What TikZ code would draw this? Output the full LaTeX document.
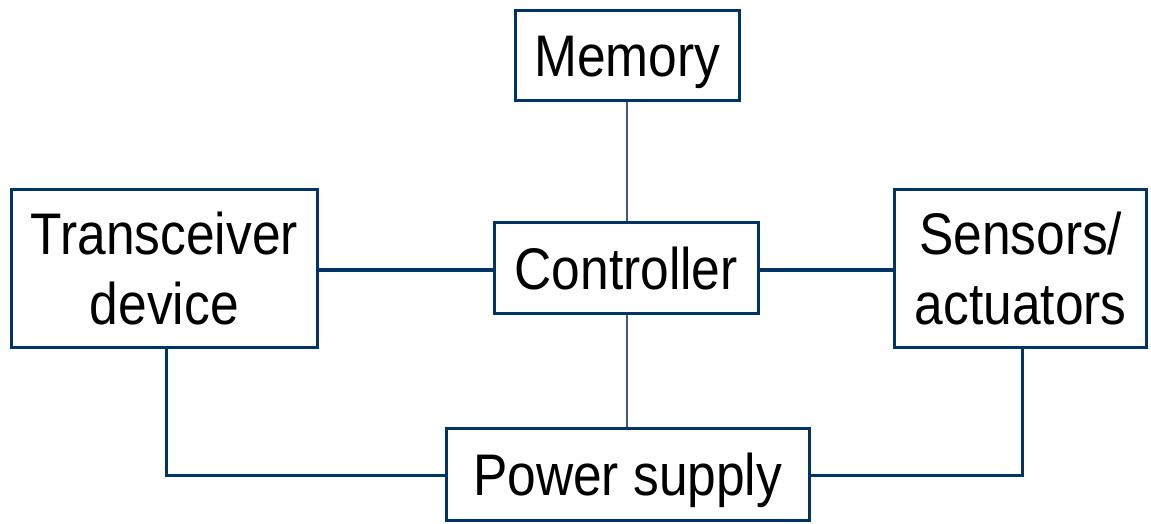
\documentclass[tikz,border=0pt]{standalone}
\usepackage{fontspec}
\newfontfamily\labfont[FakeStretch=0.877]{Liberation Sans}
\definecolor{navy}{RGB}{0,51,102}
\definecolor{midline}{RGB}{60,90,130}
\begin{document}
\begin{tikzpicture}[x=1pt,y=-1pt,
  blk/.style={draw=navy, line width=3.3pt, fill=white, inner sep=0pt, align=center,
    font=\labfont\fontsize{58.7}{70}\selectfont, text=black,
    text height=42pt, text depth=0pt},
  blk2/.style={blk, text height=112pt},
  conn/.style={draw=navy, line width=3.3pt},
  vconn/.style={draw=midline, line width=2.8pt}]
\useasboundingbox (0,0) rectangle (1151,523);
\node[blk, minimum width=224pt, minimum height=90pt] (mem) at (627.4,55.7) {Memory};
\node[blk, minimum width=264pt, minimum height=90.6pt] (ctrl) at (626.2,268) {Controller};
\node[blk2, minimum width=306pt, minimum height=158pt] (trans) at (164.3,268.6) {Transceiver\\device};
\node[blk2, minimum width=252pt, minimum height=158pt] (sens) at (1020.7,268.6) {Sensors/\\actuators};
\node[blk, minimum width=363pt, minimum height=92pt] (pow) at (627.7,474.7) {Power supply};
\coordinate (tb) at (166.3,347.5);
\coordinate (sb) at (1022.3,347.5);
\coordinate (vx) at (627,0);
\draw[vconn] (vx |- mem.south) -- (vx |- ctrl.north);
\draw[vconn] (vx |- ctrl.south) -- (vx |- pow.north);
\draw[conn] (trans.east |- 0,270) -- (ctrl.west |- 0,270);
\draw[conn] (ctrl.east |- 0,270) -- (sens.west |- 0,270);
\draw[conn] (tb) |- (pow.west |- 0,475.7);
\draw[conn] (sb) |- (pow.east |- 0,475.7);
\end{tikzpicture}
\end{document}
